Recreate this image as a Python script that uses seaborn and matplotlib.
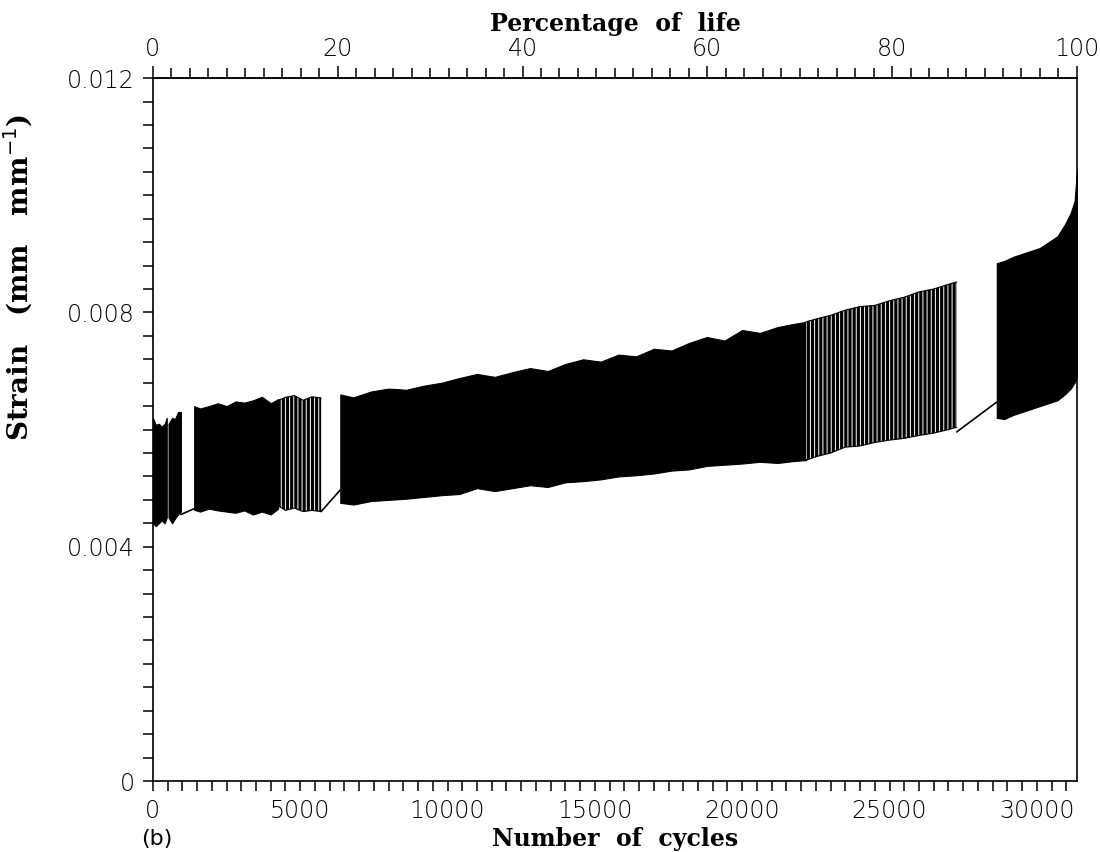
import numpy as np
import matplotlib
matplotlib.use("Agg")
import matplotlib.pyplot as plt
import seaborn as sns
from matplotlib.ticker import MultipleLocator, FixedLocator, FuncFormatter

# total life (cycles) -> right edge of the plot = 100 %
LIFE = 31360

# dense (solid black) bands: cycles, upper envelope, lower envelope
band1_n = [0, 100, 200, 300, 400, 470]
band1_hi = [0.0062, 0.00608, 0.0061, 0.00605, 0.0061, 0.0062]
band1_lo = [0.0044, 0.00435, 0.0044, 0.00445, 0.0044, 0.0045]

band2_n = [530, 650, 750, 850, 950]
band2_hi = [0.0061, 0.0062, 0.00618, 0.0063, 0.0063]
band2_lo = [0.0045, 0.0044, 0.00448, 0.00455, 0.0046]

band3_n = [1400, 1600, 1900, 2200, 2500, 2800, 3100, 3400, 3700, 4000, 4250]
band3_hi = [0.0064, 0.00636, 0.0064, 0.00645, 0.0064, 0.00648, 0.00646, 0.0065, 0.00656, 0.00645, 0.00652]
band3_lo = [0.00463, 0.0046, 0.00465, 0.00462, 0.0046, 0.00458, 0.00462, 0.00455, 0.0046, 0.00455, 0.00465]

band5_n = [6360, 6800, 7400, 8000, 8600, 9200, 9800, 10400, 11000, 11600, 12200,
           12800, 13400, 14000, 14600, 15200, 15800, 16400, 17000, 17600, 18200,
           18800, 19400, 20000, 20600, 21200, 21700, 22170]
band5_hi = [0.0066, 0.00655, 0.00665, 0.0067, 0.00668, 0.00675, 0.0068, 0.00688, 0.00695, 0.0069, 0.00698,
            0.00705, 0.007, 0.00712, 0.0072, 0.00716, 0.00728, 0.00725, 0.00738, 0.00735, 0.00748,
            0.00758, 0.00752, 0.0077, 0.00765, 0.00775, 0.0078, 0.00784]
band5_lo = [0.00475, 0.00472, 0.00478, 0.0048, 0.00482, 0.00485, 0.00488, 0.0049, 0.005, 0.00495, 0.005,
            0.00505, 0.00502, 0.0051, 0.00512, 0.00515, 0.0052, 0.00522, 0.00525, 0.0053, 0.00532,
            0.00538, 0.0054, 0.00542, 0.00545, 0.00543, 0.00546, 0.00548]

band7_n = [28640, 28900, 29200, 29500, 29800, 30100, 30400, 30700, 30950, 31150, 31280, 31360]
band7_hi = [0.00884, 0.00888, 0.00895, 0.009, 0.00905, 0.0091, 0.0092, 0.0093, 0.0095, 0.0097, 0.0099, 0.0104]
band7_lo = [0.0062, 0.00618, 0.00625, 0.0063, 0.00635, 0.0064, 0.00645, 0.0065, 0.0066, 0.0067, 0.0068, 0.0069]

# sparser (striped) bands
band4_n = [4250, 4500, 4800, 5100, 5400, 5710]
band4_hi = [0.0065, 0.00655, 0.00658, 0.0065, 0.00656, 0.00654]
band4_lo = [0.0047, 0.00462, 0.00466, 0.0046, 0.00462, 0.0046]

band6_n = [22170, 22600, 23000, 23500, 24000, 24500, 25000, 25500, 26000, 26500, 27000, 27280]
band6_hi = [0.00784, 0.0079, 0.00795, 0.00804, 0.0081, 0.00812, 0.0082, 0.00826, 0.00835, 0.0084, 0.00848, 0.00852]
band6_lo = [0.00548, 0.00555, 0.0056, 0.0057, 0.00572, 0.00578, 0.00582, 0.00585, 0.0059, 0.00594, 0.006, 0.00604]

# straight lines across the gaps in recording
gap_n = [[950, 1400], [5710, 6360], [27280, 28640]]
gap_strain = [[0.00455, 0.00465], [0.0046, 0.00497], [0.00596, 0.00647]]

pct_ticks = [0, 20, 40, 60, 80, 100]

sns.set_style("ticks")
plt.rcParams["font.family"] = ["DejaVu Sans"]
plt.rcParams["hatch.linewidth"] = 0.7

fig = plt.figure(figsize=(11, 8.52), dpi=100)
ax = fig.add_axes([0.139, 0.0833, 0.84, 0.825])

for n, hi, lo in [(band1_n, band1_hi, band1_lo), (band2_n, band2_hi, band2_lo),
                  (band3_n, band3_hi, band3_lo), (band5_n, band5_hi, band5_lo),
                  (band7_n, band7_hi, band7_lo)]:
    ax.fill_between(n, lo, hi, color="black", linewidth=0.8, edgecolor="black")

# striped bands: black fill cut by thin white vertical lines
for n, hi, lo in [(band4_n, band4_hi, band4_lo), (band6_n, band6_hi, band6_lo)]:
    ax.fill_between(n, lo, hi, facecolor="black", hatch="||||", edgecolor="white", linewidth=0)
    sns.lineplot(x=n, y=hi, ax=ax, color="black", linewidth=0.8)
    sns.lineplot(x=n, y=lo, ax=ax, color="black", linewidth=0.8)

for n, s in zip(gap_n, gap_strain):
    sns.lineplot(x=n, y=s, ax=ax, color="black", linewidth=1.2)

ax.set_xlim(0, LIFE)
ax.set_ylim(0, 0.012)

for sp in ax.spines.values():
    sp.set_visible(True)
    sp.set_linewidth(1.2)
    sp.set_color("black")

ax.xaxis.set_major_locator(MultipleLocator(5000))
ax.xaxis.set_minor_locator(MultipleLocator(500))
ax.yaxis.set_major_locator(MultipleLocator(0.004))
ax.yaxis.set_minor_locator(MultipleLocator(0.0004))
ax.yaxis.set_major_formatter(FuncFormatter(lambda v, p: "0" if v == 0 else f"{v:.3f}"))
ax.tick_params(which="both", direction="out", length=7, width=1.1, color="black",
               labelsize=17, labelcolor="black", pad=6, top=False, right=False)

sec = ax.secondary_xaxis("top", functions=(lambda c: c / LIFE * 100, lambda p: p * LIFE / 100))
sec.xaxis.set_major_locator(FixedLocator(pct_ticks))
sec.xaxis.set_minor_locator(FixedLocator(list(range(0, 101, 2))))
sec.tick_params(which="major", direction="out", length=9, width=1.1, color="black",
                labelsize=17, labelcolor="black", pad=3)
sec.tick_params(which="minor", direction="out", length=7, width=1.1, color="black")
sec.spines["top"].set_linewidth(1.2)

for lab in ax.get_xticklabels() + ax.get_yticklabels() + sec.get_xticklabels():
    lab.set_fontweight("light")

label_font = {"family": "DejaVu Serif", "weight": "bold", "size": 17, "color": "black"}
sec.set_xlabel("Percentage  of  life", fontdict=label_font, labelpad=5)
ax.set_xlabel("Number  of  cycles", fontdict=label_font, labelpad=3)
ax.set_ylabel("Strain   (mm   mm$^{-1}$)", fontdict={**label_font, "size": 20})
ax.yaxis.set_label_coords(-0.128, 0.716)

fig.text(0.128, 0.008, "(b)", fontsize=16, family="DejaVu Sans", color="black")

fig.savefig("out.png", dpi=100)
